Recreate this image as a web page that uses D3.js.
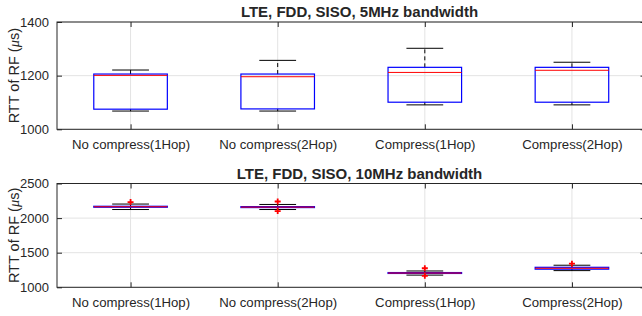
<!DOCTYPE html>
<html><head><meta charset="utf-8">
<script src="https://cdn.jsdelivr.net/npm/d3@7"></script>
<style>
html,body{margin:0;padding:0;background:#fff;}
svg{display:block;}
text{font-family:"Liberation Sans",Arial,Helvetica,sans-serif;fill:#262626;}
</style></head>
<body>
<svg id="chart" width="642" height="316"></svg>
<script>
const categories = ["No compress(1Hop)", "No compress(2Hop)", "Compress(1Hop)", "Compress(2Hop)"];

// Panel 1: 5MHz
const title5 = "LTE, FDD, SISO, 5MHz bandwidth";
const yTicks5 = [1000, 1200, 1400];
const yDomain5 = [1000, 1400];
const whiskerLow5  = [1068, 1068, 1091, 1091];
const q1_5         = [1075, 1076, 1101, 1101];
const median5      = [1201, 1196, 1212, 1220];
const q3_5         = [1206, 1206, 1231, 1231];
const whiskerHigh5 = [1221, 1257, 1302, 1250];
const outliers5    = [[], [], [], []];

// Panel 2: 10MHz
const title10 = "LTE, FDD, SISO, 10MHz bandwidth";
const yTicks10 = [1000, 1500, 2000, 2500];
const yDomain10 = [1000, 2500];
const whiskerLow10  = [2124, 2124, 1176, 1241];
const q1_10         = [2157, 2152, 1200, 1262];
const median10      = [2164, 2159, 1206, 1275];
const q3_10         = [2171, 2166, 1213, 1289];
const whiskerHigh10 = [2203, 2197, 1236, 1319];
const outliers10    = [[2232], [2240, 2101], [1275, 1166], [1342]];

const yLabelMain = "RTT of RF (";
const yLabelMu = "\u03bc";
const yLabelEnd = "s)";

const svg = d3.select("#chart");
const axLeft = 57, axRight = 645.5;

const x = d3.scaleLinear().domain([0.5, categories.length + 0.5]).range([axLeft, axRight]);

function panel(cfg) {
  const g = svg.append("g");
  const y = d3.scaleLinear().domain(cfg.domain).range([cfg.bottom, cfg.top]);
  const idx = d3.range(categories.length);
  const boxHalf = (x(1.25) - x(1));
  const capHalf = (x(1.125) - x(1));

  // grid
  g.selectAll(".hgrid").data(cfg.ticks).enter().append("line")
    .attr("x1", axLeft).attr("x2", axRight)
    .attr("y1", d => y(d)).attr("y2", d => y(d))
    .attr("stroke", "#e3e3e3").attr("stroke-width", 1);
  g.selectAll(".vgrid").data(idx).enter().append("line")
    .attr("x1", i => x(i + 1)).attr("x2", i => x(i + 1))
    .attr("y1", cfg.top).attr("y2", cfg.bottom)
    .attr("stroke", "#e3e3e3").attr("stroke-width", 1);

  // whiskers (dashed)
  g.selectAll(".wu").data(idx).enter().append("line")
    .attr("x1", i => x(i + 1)).attr("x2", i => x(i + 1))
    .attr("y1", i => y(cfg.q3[i])).attr("y2", i => y(cfg.wh[i]))
    .attr("stroke", "#000").attr("stroke-dasharray", "4,3");
  g.selectAll(".wl").data(idx).enter().append("line")
    .attr("x1", i => x(i + 1)).attr("x2", i => x(i + 1))
    .attr("y1", i => y(cfg.q1[i])).attr("y2", i => y(cfg.wl[i]))
    .attr("stroke", "#000").attr("stroke-dasharray", "4,3");
  // caps
  g.selectAll(".cu").data(idx).enter().append("line")
    .attr("x1", i => x(i + 1) - capHalf).attr("x2", i => x(i + 1) + capHalf)
    .attr("y1", i => y(cfg.wh[i])).attr("y2", i => y(cfg.wh[i]))
    .attr("stroke", "#000");
  g.selectAll(".cl").data(idx).enter().append("line")
    .attr("x1", i => x(i + 1) - capHalf).attr("x2", i => x(i + 1) + capHalf)
    .attr("y1", i => y(cfg.wl[i])).attr("y2", i => y(cfg.wl[i]))
    .attr("stroke", "#000");
  // boxes
  g.selectAll(".box").data(idx).enter().append("rect")
    .attr("x", i => x(i + 1) - boxHalf).attr("width", 2 * boxHalf)
    .attr("y", i => y(cfg.q3[i])).attr("height", i => Math.max(0.01, y(cfg.q1[i]) - y(cfg.q3[i])))
    .attr("fill", "none").attr("stroke", "#0000ff").attr("stroke-width", 1.2);
  // medians
  g.selectAll(".med").data(idx).enter().append("line")
    .attr("x1", i => x(i + 1) - boxHalf).attr("x2", i => x(i + 1) + boxHalf)
    .attr("y1", i => y(cfg.med[i])).attr("y2", i => y(cfg.med[i]))
    .attr("stroke", "#ff0000").attr("stroke-width", 1);
  // outliers
  const pts = [];
  idx.forEach(i => cfg.out[i].forEach(v => pts.push({i, v})));
  g.selectAll(".out").data(pts).enter().append("path")
    .attr("transform", d => `translate(${x(d.i + 1)},${y(d.v)})`)
    .attr("d", "M-3,0H3M0,-3V3")
    .attr("stroke", "#ff0000").attr("stroke-width", 1.8).attr("fill", "none");

  // axes box
  g.append("rect").attr("x", axLeft).attr("y", cfg.top)
    .attr("width", axRight - axLeft).attr("height", cfg.bottom - cfg.top)
    .attr("fill", "none").attr("stroke", "#262626").attr("stroke-width", 1);

  // y axis
  const yAxis = d3.axisLeft(y).tickValues(cfg.ticks).tickSize(-5).tickPadding(8).tickFormat(d3.format("d"));
  const ya = g.append("g").attr("transform", `translate(${axLeft},0)`).call(yAxis);
  ya.select(".domain").remove();
  ya.selectAll("line").attr("stroke", "#262626");
  ya.selectAll("text").style("font-size", "13px").attr("fill", "#333");
  const yAxisR = d3.axisRight(y).tickValues(cfg.ticks).tickSize(-5).tickFormat("");
  const yr = g.append("g").attr("transform", `translate(${axRight},0)`).call(yAxisR);
  yr.select(".domain").remove();
  yr.selectAll("line").attr("stroke", "#262626");

  // x axis
  const xAxis = d3.axisBottom(x).tickValues(idx.map(i => i + 1)).tickSize(-5).tickPadding(10)
    .tickFormat(d => categories[d - 1]);
  const xa = g.append("g").attr("transform", `translate(0,${cfg.bottom})`).call(xAxis);
  xa.select(".domain").remove();
  xa.selectAll("line").attr("stroke", "#262626");
  xa.selectAll("text").style("font-size", "13.2px").attr("fill", "#333");
  const xAxisT = d3.axisTop(x).tickValues(idx.map(i => i + 1)).tickSize(-5).tickFormat("");
  const xt = g.append("g").attr("transform", `translate(0,${cfg.top})`).call(xAxisT);
  xt.select(".domain").remove();
  xt.selectAll("line").attr("stroke", "#262626");

  // title
  g.append("text").attr("x", 359.5).attr("y", cfg.top - 5)
    .attr("text-anchor", "middle").style("font-size", "15px").style("font-weight", "bold")
    .attr("fill", "#000").text(cfg.title);

  // y label
  const cy = (cfg.top + cfg.bottom) / 2;
  const yl = g.append("text").attr("transform", `translate(19,${cy}) rotate(-90)`)
    .attr("text-anchor", "middle").style("font-size", "14.5px").attr("fill", "#333");
  yl.append("tspan").text(yLabelMain);
  yl.append("tspan").style("font-style", "italic").style("font-family", "'Liberation Serif','DejaVu Serif',serif").text(yLabelMu);
  yl.append("tspan").text(yLabelEnd);
}

panel({title: title5, ticks: yTicks5, domain: yDomain5, top: 22, bottom: 129.3,
  wl: whiskerLow5, q1: q1_5, med: median5, q3: q3_5, wh: whiskerHigh5, out: outliers5});
panel({title: title10, ticks: yTicks10, domain: yDomain10, top: 183.5, bottom: 287.3,
  wl: whiskerLow10, q1: q1_10, med: median10, q3: q3_10, wh: whiskerHigh10, out: outliers10});
</script>
</body></html>
